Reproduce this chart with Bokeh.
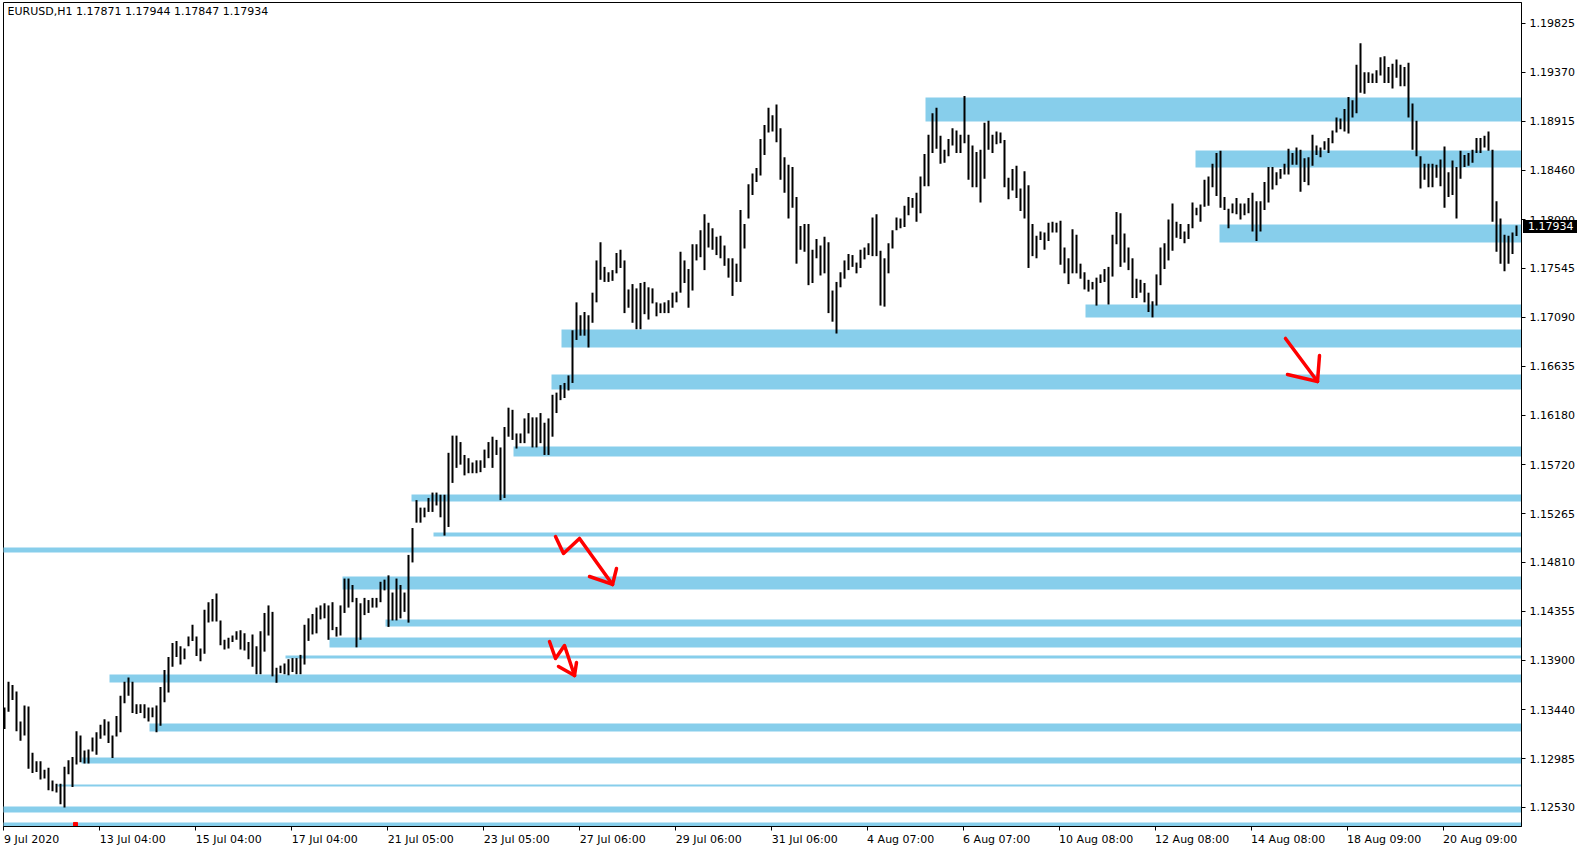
from bokeh.plotting import figure
from bokeh.models import Range1d, FixedTicker, Label, ColumnDataSource, NumeralTickFormatter, Div
from bokeh.layouts import column
from bokeh.embed import file_html
from bokeh.resources import INLINE

# ---------------- data ----------------
symbol_title = "EURUSD,H1  1.17871 1.17944 1.17847 1.17934"
last_close = 1.17934
hours_per_bar = 2   # every bar below covers two H1 candles

bar_high = [
 1.1346,1.1370,1.1367,1.1361,1.1333,1.1348,1.1347,1.1304,1.1296,1.1296,
 1.1288,1.1290,1.1278,1.1275,1.1275,1.1291,1.1297,1.1300,1.1324,1.1320,
 1.1306,1.1307,1.1318,1.1323,1.1330,1.1335,1.1333,1.1320,1.1338,1.1357,
 1.1370,1.1374,1.1370,1.1349,1.1349,1.1349,1.1346,1.1346,1.1348,1.1365,
 1.1381,1.1393,1.1406,1.1408,1.1403,1.1401,1.1412,1.1423,1.1412,1.1401,
 1.1437,1.1444,1.1447,1.1452,1.1427,1.1409,1.1411,1.1413,1.1417,1.1418,
 1.1415,1.1407,1.1414,1.1403,1.1417,1.1434,1.1441,1.1435,1.1383,1.1385,
 1.1387,1.1391,1.1392,1.1392,1.1395,1.1423,1.1429,1.1433,1.1439,1.1441,
 1.1443,1.1441,1.1444,1.1421,1.1441,1.1466,1.1466,1.1460,1.1448,1.1443,
 1.1448,1.1446,1.1448,1.1448,1.1463,1.1465,1.1469,1.1453,1.1466,1.1460,
 1.1453,1.1488,1.1513,1.1539,1.1532,1.1532,1.1541,1.1546,1.1546,1.1544,
 1.1544,1.1583,1.1599,1.1599,1.1593,1.1581,1.1578,1.1574,1.1576,1.1576,
 1.1586,1.1593,1.1598,1.1595,1.1588,1.1607,1.1625,1.1623,1.1601,1.1601,
 1.1615,1.1620,1.1616,1.1616,1.1620,1.1611,1.1615,1.1637,1.1639,1.1646,
 1.1648,1.1655,1.1697,1.1723,1.1711,1.1714,1.1711,1.1732,1.1762,1.1779,1.1756,1.1751,
 1.1753,1.1769,1.1772,1.1762,1.1735,1.1740,1.1736,1.1741,1.1742,1.1737,
 1.1736,1.1723,1.1722,1.1723,1.1725,1.1732,1.1733,1.1770,1.1762,1.1754,
 1.1777,1.1777,1.1790,1.1805,1.1797,1.1792,1.1784,1.1785,1.1776,1.1764,
 1.1764,1.1759,1.1809,1.1796,1.1833,1.1843,1.1848,1.1875,1.1888,1.1904,
 1.1897,1.1907,1.1885,1.1858,1.1851,1.1849,1.1821,1.1794,1.1796,1.1796,
 1.1772,1.1782,1.1776,1.1784,1.1779,1.1734,1.1742,1.1751,1.1762,1.1768,
 1.1767,1.1760,1.1772,1.1774,1.1778,1.1802,1.1805,1.1771,1.1764,1.1778,
 1.1790,1.1802,1.1801,1.1813,1.1821,
 1.1820,1.1825,1.1840,1.1861,1.1879,1.1899,1.1904,1.1878,1.1865,1.1875,
 1.1885,1.1883,1.1879,1.1915,1.1879,1.1869,1.1863,1.1865,1.1890,1.1892,
 1.1879,1.1882,1.1881,1.1874,1.1839,1.1847,1.1850,1.1829,1.1845,1.1832,
 1.1796,1.1785,1.1789,1.1788,1.1797,1.1798,1.1797,1.1799,1.1774,1.1764,
 1.1791,1.1786,1.1759,1.1751,1.1744,1.1742,1.1746,1.1749,1.1754,1.1756,
 1.1786,1.1807,1.1806,1.1787,1.1774,1.1764,1.1745,1.1744,1.1741,1.1732,
 1.1724,1.1749,1.1774,1.1778,1.1800,1.1815,1.1798,1.1796,1.1789,1.1796,
 1.1816,1.1811,1.1814,1.1837,1.1840,
 1.1852,1.1862,1.1864,1.1821,1.1810,1.1815,1.1820,1.1815,1.1815,1.1820,
 1.1825,1.1817,1.1817,1.1835,1.1849,1.1849,1.1844,1.1847,1.1852,1.1866,
 1.1862,1.1867,1.1865,1.1857,1.1858,1.1879,1.1869,1.1867,1.1873,1.1876,
 1.1883,1.1895,1.1894,1.1903,1.1914,1.1911,1.1944,1.1964,1.1937,1.1937,
 1.1936,1.1939,1.1951,1.1952,1.1942,1.1945,1.1949,1.1944,1.1942,1.1946,
 1.1908,1.1892,1.1859,1.1852,1.1852,1.1852,1.1851,1.1856,1.1868,1.1844,
 1.1855,1.1849,1.1864,1.1860,1.1862,1.1865,1.1876,1.1876,1.1878,1.1882,
 1.1865,1.1817,1.1801,1.1786,1.1785,1.1788,1.17944,
]

bar_low = [
 1.1326,1.1342,1.1353,1.1324,1.1315,1.1320,1.1289,1.1285,1.1286,1.1279,
 1.1280,1.1269,1.1268,1.1267,1.1256,1.1253,1.1284,1.1272,1.1293,1.1295,
 1.1294,1.1294,1.1305,1.1302,1.1317,1.1320,1.1313,1.1299,1.1319,1.1323,
 1.1350,1.1357,1.1341,1.1340,1.1341,1.1336,1.1333,1.1337,1.1323,1.1329,
 1.1351,1.1360,1.1384,1.1393,1.1386,1.1391,1.1403,1.1408,1.1394,1.1389,
 1.1396,1.1425,1.1426,1.1426,1.1404,1.1400,1.1401,1.1407,1.1409,1.1400,
 1.1399,1.1391,1.1384,1.1377,1.1377,1.1398,1.1413,1.1375,1.1369,1.1378,
 1.1377,1.1376,1.1379,1.1377,1.1377,1.1386,1.1408,1.1414,1.1415,1.1428,
 1.1429,1.1409,1.1418,1.1412,1.1413,1.1434,1.1439,1.1444,1.1402,1.1409,
 1.1432,1.1434,1.1439,1.1439,1.1444,1.1455,1.1421,1.1427,1.1427,1.1429,
 1.1435,1.1425,1.1481,1.1518,1.1518,1.1523,1.1528,1.1528,1.1534,1.1523,
 1.1506,1.1514,1.1555,1.1569,1.1572,1.1562,1.1564,1.1564,1.1564,1.1565,
 1.1569,1.1578,1.1569,1.1581,1.1539,1.1541,1.1598,1.1595,1.1587,1.1592,
 1.1592,1.1601,1.1588,1.1588,1.1592,1.1581,1.1581,1.1598,1.1620,1.1632,
 1.1634,1.1641,1.1648,1.1688,1.1692,1.1692,1.1681,1.1704,1.1723,1.1744,1.1742,1.1742,
 1.1743,1.1750,1.1755,1.1713,1.1718,1.1704,1.1698,1.1698,1.1712,1.1707,
 1.1722,1.1710,1.1713,1.1713,1.1713,1.1718,1.1723,1.1732,1.1741,1.1718,
 1.1734,1.1762,1.1765,1.1753,1.1774,1.1772,1.1767,1.1764,1.1757,1.1746,
 1.1729,1.1742,1.1742,1.1773,1.1801,1.1823,1.1835,1.1841,1.1860,1.1881,
 1.1882,1.1872,1.1837,1.1825,1.1801,1.1811,1.1759,1.1772,1.1770,1.1739,
 1.1741,1.1764,1.1748,1.1750,1.1713,1.1705,1.1694,1.1737,1.1745,1.1753,
 1.1756,1.1750,1.1755,1.1763,1.1767,1.1766,1.1766,1.1720,1.1719,1.1750,
 1.1773,1.1790,1.1792,1.1793,1.1804,
 1.1811,1.1798,1.1806,1.1831,1.1831,1.1862,1.1866,1.1852,1.1853,1.1859,
 1.1869,1.1862,1.1862,1.1871,1.1837,1.1830,1.1830,1.1816,1.1838,1.1865,
 1.1862,1.1870,1.1871,1.1830,1.1819,1.1827,1.1820,1.1808,1.1801,1.1755,
 1.1766,1.1764,1.1781,1.1772,1.1780,1.1788,1.1788,1.1758,1.1750,1.1740,
 1.1750,1.1750,1.1745,1.1735,1.1733,1.1735,1.1720,1.1741,1.1742,1.1721,
 1.1747,1.1777,1.1756,1.1760,1.1753,1.1727,1.1727,1.1732,1.1723,1.1714,
 1.1709,1.1720,1.1739,1.1754,1.1762,1.1771,1.1783,1.1782,1.1778,1.1782,
 1.1792,1.1804,1.1798,1.1812,1.1813,
 1.1830,1.1822,1.1811,1.1809,1.1792,1.1806,1.1805,1.1800,1.1804,1.1806,
 1.1789,1.1780,1.1789,1.1809,1.1816,1.1828,1.1832,1.1838,1.1842,1.1842,
 1.1851,1.1851,1.1826,1.1835,1.1832,1.1850,1.1860,1.1858,1.1865,1.1862,
 1.1871,1.1881,1.1884,1.1882,1.1880,1.1895,1.1899,1.1918,1.1917,1.1927,
 1.1927,1.1927,1.1934,1.1927,1.1927,1.1922,1.1932,1.1924,1.1924,1.1895,
 1.1865,1.1859,1.1829,1.1837,1.1830,1.1830,1.1839,1.1831,1.1811,1.1821,
 1.1823,1.1801,1.1838,1.1849,1.1850,1.1853,1.1862,1.1862,1.1867,1.1864,
 1.1798,1.1770,1.1759,1.1752,1.1759,1.1768,1.17847,
]

time_tick_hours = [0, 48, 96, 144, 192, 240, 288, 336, 384, 432, 480, 528, 576, 624, 672, 720]
time_tick_labels = ["9 Jul 2020", "13 Jul 04:00", "15 Jul 04:00", "17 Jul 04:00", "21 Jul 05:00",
                    "23 Jul 05:00", "27 Jul 06:00", "29 Jul 06:00", "31 Jul 06:00", "4 Aug 07:00",
                    "6 Aug 07:00", "10 Aug 08:00", "12 Aug 08:00", "14 Aug 08:00", "18 Aug 09:00",
                    "20 Aug 09:00"]

price_ticks = [1.12530, 1.12985, 1.13440, 1.13900, 1.14355, 1.14810, 1.15265, 1.15720, 1.16180,
               1.16635, 1.17090, 1.17545, 1.18000, 1.18460, 1.18915, 1.19370, 1.19825]
price_tick_labels = ["1.12530", "1.12985", "1.13440", "1.13900", "1.14355", "1.14810", "1.15265",
                     "1.15720", "1.16180", "1.16635", "1.17090", "1.17545", "1.18000", "1.18460",
                     "1.18915", "1.19370", "1.19825"]

# support / resistance zones: start (hours from first bar), bottom, top
zone_start  = [461, 596, 608, 541, 279, 274, 255, 204, 215, -10, 169.5, 191, 163, 141, 53, 73, 39, 27, -10, -10]
zone_bottom = [1.18913, 1.18485, 1.17787, 1.17089, 1.16810, 1.16419, 1.15796, 1.15377, 1.15051, 1.14903,
               1.14558, 1.14214, 1.14019, 1.13916, 1.13693, 1.13237, 1.12939, 1.12725, 1.12483, 1.12353]
zone_top    = [1.19136, 1.18643, 1.17954, 1.17210, 1.16977, 1.16559, 1.15889, 1.15442, 1.15089, 1.14949,
               1.14679, 1.14279, 1.14112, 1.13944, 1.13767, 1.13312, 1.12995, 1.12744, 1.12539, 1.12390]

# hand-drawn red arrows (hours, price)
arrow_xs = [[641, 657], [642, 657], [658, 657],
            [276, 280, 288, 304.5], [293, 304.5], [306.5, 304.5],
            [273, 276, 280.5, 285.5], [277.5, 285.5], [286.5, 285.5]]
arrow_ys = [[1.16894, 1.16494], [1.16559, 1.16494], [1.16735, 1.16494],
            [1.15051, 1.14893, 1.15033, 1.14605], [1.14679, 1.14605], [1.14754, 1.14605],
            [1.14074, 1.13916, 1.14037, 1.13758], [1.13842, 1.13758], [1.13879, 1.13758]]

trade_mark_hour = [36]
trade_mark_price = [1.12372]

x_start, x_end = 0, 759
y_bottom, y_top = 1.12353, 1.20020

# ---------------- helpers ----------------
FONT = "DejaVu Sans"
FONT_PX = 11
FRAME_L, FRAME_T, FRAME_W, FRAME_H = 3, 2, 1518, 824
_W = {" ": 0.318, ":": 0.337, "J": 0.295, "u": 0.634, "l": 0.278, "A": 0.684, "g": 0.635, ",": 0.318, ".": 0.318}


def text_em(s):
    return sum(_W.get(c, 0.636) for c in s)


def left_aligned(s, first=False):
    # axis labels are centred on their tick; lead with no-break spaces as wide as the
    # text so the visible text starts at the tick (MetaTrader style)
    n = 1 if first else int(round(text_em(s) / 0.318))
    return "\u00a0" * n + s


# ---------------- figure ----------------
assert len(bar_high) == len(bar_low)
bar_x = [hours_per_bar * k + 0.5 for k in range(len(bar_high))]

p = figure(frame_width=FRAME_W, frame_height=FRAME_H,
           x_range=Range1d(x_start, x_end), y_range=Range1d(y_bottom, y_top),
           output_backend="svg", toolbar_location=None, y_axis_location="right",
           min_border_left=FRAME_L, min_border_top=FRAME_T, min_border_bottom=0, min_border_right=58,
           background_fill_color="white", border_fill_color="white")
p.outline_line_color = "black"
p.outline_line_width = 1
p.xgrid.visible = False
p.ygrid.visible = False

xa = p.xaxis[0]
xa.ticker = FixedTicker(ticks=time_tick_hours)
xa.major_label_overrides = {h: left_aligned(l, h == x_start) for h, l in zip(time_tick_hours, time_tick_labels)}
xa.major_label_text_font = FONT
xa.major_label_text_font_size = "%dpx" % FONT_PX
xa.major_label_text_color = "black"
xa.major_label_standoff = 2
xa.major_tick_out = 4
xa.major_tick_in = 0
xa.minor_tick_out = 0
xa.minor_tick_in = 0
xa.axis_line_color = "black"
xa.major_tick_line_color = "black"

ya = p.yaxis[0]
ya.ticker = FixedTicker(ticks=price_ticks)
ya.formatter = NumeralTickFormatter(format="0.00000")
ya.major_label_overrides = {t: l for t, l in zip(price_ticks, price_tick_labels)}
ya.major_label_text_font = FONT
ya.major_label_text_font_size = "%dpx" % FONT_PX
ya.major_label_text_color = "black"
ya.major_label_standoff = 4
ya.major_tick_out = 4
ya.major_tick_in = 0
ya.minor_tick_out = 0
ya.minor_tick_in = 0
ya.axis_line_color = "black"
ya.major_tick_line_color = "black"

# zones
p.quad(left=zone_start, right=[x_end + 10] * len(zone_start), bottom=zone_bottom, top=zone_top,
       fill_color="#87CEEB", line_color=None)

# bars
src = ColumnDataSource(dict(x=bar_x, high=bar_high, low=bar_low))
p.segment(x0="x", y0="low", x1="x", y1="high", source=src, line_color="black", line_width=2)

# arrows
p.multi_line(xs=arrow_xs, ys=arrow_ys, line_color="#FF0000", line_width=3.5,
             line_cap="round", line_join="round")
p.scatter(trade_mark_hour, trade_mark_price, marker="square", size=4, color="#FF0000")

# title text
p.add_layout(Label(x=2, y=1.19995, text=symbol_title, text_font=FONT, text_font_size="%dpx" % FONT_PX,
                   text_color="black", text_baseline="top", text_align="left"))

# current price tag on the price scale: an HTML box laid over the axis area
tag_top = FRAME_T + (y_top - last_close) / (y_top - y_bottom) * FRAME_H - 6.5
tag = Div(text="%.5f" % last_close, width=54, height=13, margin=0,
          styles={"position": "absolute", "left": "%dpx" % (FRAME_L + FRAME_W + 2),
                  "top": "%dpx" % round(tag_top), "background-color": "black", "color": "white",
                  "font-family": FONT, "font-size": "%dpx" % FONT_PX, "line-height": "13px",
                  "padding-left": "5px", "box-sizing": "border-box", "overflow": "hidden",
                  "z-index": "10", "white-space": "nowrap", "margin": "0px"})

page = column(p, tag, spacing=0)
open("out.html", "w").write(file_html(page, INLINE))
